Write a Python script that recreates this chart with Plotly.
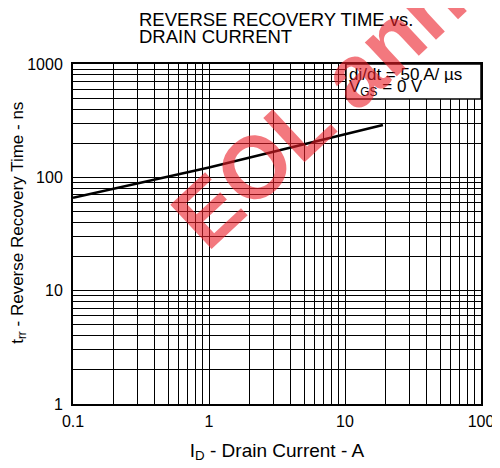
import plotly.graph_objects as go

# (log-log)
drain_current = [0.1, 1, 19]          # A
recovery_time = [66, 122, 290]        # ns

x_ticks = [0.1, 1, 10, 100]
x_labels = ["0.1", "1", "10", "100"]
y_ticks = [1, 10, 100, 1000]
y_labels = ["1", "10", "100", "1000"]

title_lines = ["REVERSE RECOVERY TIME vs.", "DRAIN CURRENT"]
cond_lines = ["di/dt = 50 A/ µs", "V<sub>GS</sub> = 0 V"]
y_title = "t<sub>rr</sub> - Reverse Recovery Time - ns"
x_title = "I<sub>D</sub> - Drain Current - A"
watermark = "EOL announced"

FONT = "Liberation Sans, Arial, sans-serif"

# 2..9 lines inside each decade
x_minor = [k * 10.0 ** e for e in range(-1, 2) for k in range(2, 10)]
y_minor = [k * 10.0 ** e for e in range(0, 3) for k in range(2, 10)]

fig = go.Figure()
fig.add_trace(go.Scatter(x=drain_current, y=recovery_time, mode="lines",
                         line=dict(color="black", width=2.5), showlegend=False))

axis_common = dict(type="log", showgrid=True, gridcolor="black", gridwidth=1,
                   showline=True, linecolor="black", linewidth=2, mirror=True,
                   ticks="", zeroline=False, automargin=False,
                   tickfont=dict(family=FONT, size=16, color="black"))

fig.update_xaxes(range=[-1, 2], tickvals=x_ticks, ticktext=x_labels,
                 minor=dict(tickvals=x_minor, showgrid=True, gridcolor="black", gridwidth=1),
                 ticklabelstandoff=2,
                 title=dict(text=x_title, standoff=14,
                            font=dict(family=FONT, size=19, color="black")),
                 **axis_common)
fig.update_yaxes(range=[0, 3], tickvals=y_ticks, ticktext=y_labels,
                 minor=dict(tickvals=y_minor, showgrid=True, gridcolor="black", gridwidth=1),
                 ticklabelstandoff=5, **axis_common)

# y title sits a bit above the middle of the plot in the reference
fig.add_annotation(text=y_title, xref="paper", yref="paper", x=-0.133, y=0.532,
                   textangle=-90, xanchor="center", yanchor="middle", showarrow=False,
                   font=dict(family=FONT, size=17, color="black"))

# title, two lines placed by hand
for i, line in enumerate(title_lines):
    fig.add_annotation(text=line, xref="paper", yref="paper", x=0.157, y=[1.132, 1.082][i],
                       xanchor="left", yanchor="middle", showarrow=False,
                       font=dict(family=FONT, size=18.5, color="black"))

# conditions box in the upper right corner
fig.add_shape(type="rect", xref="paper", yref="paper", x0=0.669, x1=1, y0=0.897, y1=1,
              fillcolor="white", line=dict(color="black", width=1.5), layer="above")
for i, line in enumerate(cond_lines):
    fig.add_annotation(text=line, xref="paper", yref="paper", x=0.672, y=[0.968, 0.928][i],
                       xanchor="left", yanchor="middle", showarrow=False,
                       font=dict(family=FONT, size=17, color="black"))

fig.add_annotation(text="<b>" + watermark + "</b>", xref="paper", yref="paper",
                   x=0.88, y=1.185, xanchor="center", yanchor="middle",
                   textangle=-43, showarrow=False,
                   font=dict(family=FONT, size=88, color="rgba(235,30,40,0.6)"))

# page body adds an 8 px offset, so margins are shifted to keep the plot box in place
fig.update_layout(width=500, height=468, plot_bgcolor="white", paper_bgcolor="white",
                  margin=dict(l=65, r=27, t=56, b=72), showlegend=False)

fig.write_html("out.html")
